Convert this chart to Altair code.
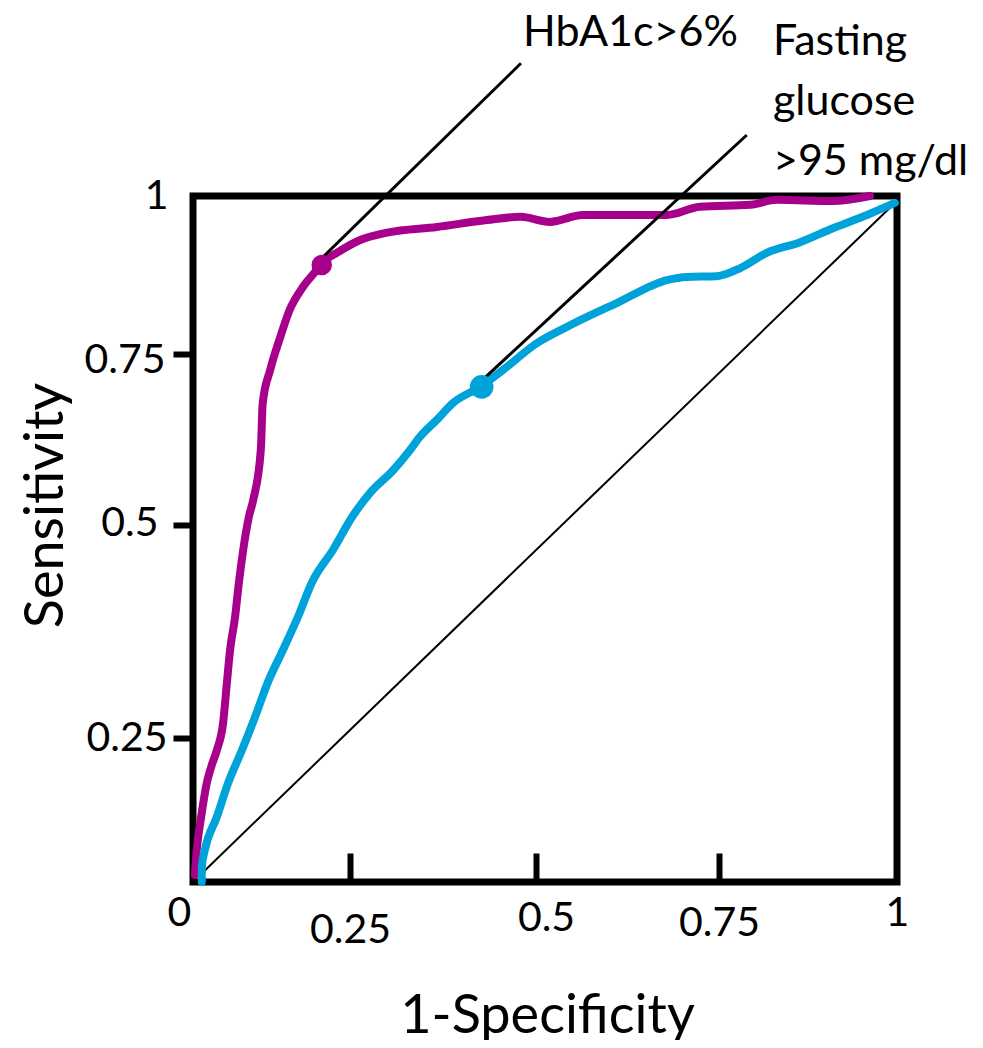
import altair as alt
import pandas as pd

# ---- data ----
tick_values = [0, 0.25, 0.5, 0.75, 1]
y_tick_values = [0.25, 0.5, 0.75, 1]

hba1c_fpr = [0.003, 0.006, 0.013, 0.022, 0.029, 0.038, 0.048, 0.054, 0.059, 0.067,
             0.073, 0.080, 0.089, 0.096, 0.108, 0.111, 0.123, 0.139, 0.154, 0.175,
             0.197, 0.205, 0.229, 0.263, 0.300, 0.367, 0.434, 0.479, 0.519, 0.564,
             0.679, 0.724, 0.794, 0.831, 0.910, 0.962]
hba1c_tpr = [0.012, 0.056, 0.113, 0.172, 0.200, 0.229, 0.268, 0.315, 0.353, 0.392,
             0.432, 0.471, 0.512, 0.537, 0.610, 0.678, 0.727, 0.777, 0.820, 0.856,
             0.883, 0.894, 0.910, 0.930, 0.942, 0.951, 0.962, 0.967, 0.959, 0.970,
             0.970, 0.983, 0.986, 0.994, 0.992, 1.000]

fg_fpr = [0.014, 0.014, 0.019, 0.038, 0.056, 0.078, 0.099, 0.119, 0.143, 0.167,
          0.189, 0.223, 0.253, 0.277, 0.308, 0.331, 0.344, 0.367, 0.388, 0.425,
          0.456, 0.501, 0.544, 0.611, 0.679, 0.706, 0.747, 0.780, 0.817, 0.864,
          0.910, 0.958, 0.997]
fg_tpr = [0.000, 0.026, 0.056, 0.113, 0.172, 0.229, 0.275, 0.315, 0.353, 0.392,
          0.432, 0.471, 0.512, 0.547, 0.580, 0.610, 0.629, 0.654, 0.678, 0.702,
          0.727, 0.767, 0.794, 0.831, 0.867, 0.872, 0.873, 0.886, 0.910, 0.927,
          0.949, 0.970, 0.989]

diag_fpr = [0.016, 0.997]
diag_tpr = [0.017, 0.989]

series_names = ["HbA1c>6%", "Fasting glucose >95 mg/dl"]
series_colors = ["#A7008B", "#00A3D9"]

cut_fpr = [0.205, 0.427]
cut_tpr = [0.891, 0.702]
cut_size = [420, 560]

leader_fpr = [0.2086, 0.418]
leader_tpr = [0.905, 0.702]
leader_fpr2 = [0.4798, 0.789]
leader_tpr2 = [1.210, 1.0965]

label_text = ["HbA1c>6%", "Fasting\nglucose\n>95 mg/dl"]
label_fpr = [0.4825, 0.8258]
label_tpr = [1.2380, 1.223]

# ---- tables ----
curves = pd.DataFrame({
    "fpr": hba1c_fpr + fg_fpr,
    "tpr": hba1c_tpr + fg_tpr,
    "series": [series_names[0]] * len(hba1c_fpr) + [series_names[1]] * len(fg_fpr),
    "order": list(range(len(hba1c_fpr))) + list(range(len(fg_fpr))),
})
diag = pd.DataFrame({"fpr": diag_fpr, "tpr": diag_tpr})
cuts = pd.DataFrame({"fpr": cut_fpr, "tpr": cut_tpr, "series": series_names, "size": cut_size})
leaders = pd.DataFrame({"fpr": leader_fpr, "tpr": leader_tpr, "fpr2": leader_fpr2, "tpr2": leader_tpr2})
labels = pd.DataFrame({"fpr": label_fpr, "tpr": label_tpr, "text": label_text})

FONT = "Lato"

xscale = alt.Scale(domain=tick_values, range=[0, 157, 343, 526, 704], nice=False, zero=False)
yscale = alt.Scale(domain=tick_values, range=[686, 542, 329, 158, 0], nice=False, zero=False)
color = alt.Color("series:N", scale=alt.Scale(domain=series_names, range=series_colors), legend=None)

xaxis = alt.Axis(
    values=tick_values, format="~g", domain=False, grid=False,
    offset=-29, tickSize=29, tickWidth=6, tickColor="black",
    tickOpacity={"expr": "datum.value > 0 && datum.value < 1 ? 1 : 0"},
    labelFont=FONT, labelFontSize=41, labelColor="black", labelBaseline="alphabetic",
    labelFlush=False, labelOverlap=False,
    labelPadding={"expr": "datum.value == 0.25 ? 60 : datum.value == 0.75 ? 53 : datum.value == 0.5 ? 48 : 43"},
    labelOffset={"expr": "datum.value == 0 ? -14 : datum.value == 0.5 ? 10 : 0"},
    title="1-Specificity", titleFont=FONT, titleFontSize=54, titleFontWeight="normal",
    titleColor="black", titleX=354, titleY=179, titleAlign="center", titleBaseline="alphabetic",
)
yaxis = alt.Axis(
    values=y_tick_values, format="~g", domain=False, grid=False,
    tickSize=20, tickWidth=6, tickColor="black",
    tickOpacity={"expr": "datum.value < 1 ? 1 : 0"},
    labelFont=FONT, labelFontSize=41, labelColor="black", labelBaseline="middle",
    labelFlush=False, labelOverlap=False,
    labelPadding={"expr": "datum.value == 1 ? 5 : datum.value == 0.5 ? 15 : datum.value == 0.25 ? 6 : 8"},
    labelOffset={"expr": "datum.value == 0.75 ? 6 : datum.value == 0.5 ? -2 : 0"},
    title="Sensitivity", titleFont=FONT, titleFontSize=54, titleFontWeight="normal",
    titleColor="black", titleX=-131, titleY=309, titleAngle=270, titleAlign="center",
    titleBaseline="alphabetic",
)

diag_layer = alt.Chart(diag).mark_line(color="black", strokeWidth=2).encode(
    x=alt.X("fpr:Q", scale=xscale, axis=xaxis), y=alt.Y("tpr:Q", scale=yscale, axis=yaxis)
)

curve_layer = alt.Chart(curves).mark_line(strokeWidth=8, strokeCap="round", strokeJoin="round",
                                          interpolate="monotone").encode(
    x=alt.X("fpr:Q", scale=xscale),
    y=alt.Y("tpr:Q", scale=yscale),
    color=color,
    detail="series:N",
    order="order:Q",
)

leader_layer = alt.Chart(leaders).mark_rule(color="black", strokeWidth=3).encode(
    x=alt.X("fpr:Q", scale=xscale), y=alt.Y("tpr:Q", scale=yscale),
    x2="fpr2:Q", y2="tpr2:Q",
)

cut_layer = alt.Chart(cuts).mark_circle(opacity=1).encode(
    x=alt.X("fpr:Q", scale=xscale), y=alt.Y("tpr:Q", scale=yscale),
    color=color,
    size=alt.Size("size:Q", scale=None, legend=None),
)

label_layer = alt.Chart(labels).mark_text(
    font=FONT, fontSize=43, color="black", align="left", baseline="alphabetic",
    lineBreak="\n", lineHeight=60,
).encode(
    x=alt.X("fpr:Q", scale=xscale), y=alt.Y("tpr:Q", scale=yscale), text="text:N",
)

chart = alt.layer(diag_layer, curve_layer, leader_layer, cut_layer, label_layer).properties(
    width=704, height=686,
    background="white",
    autosize=alt.AutoSizeParams(type="none"),
    padding={"left": 185, "top": 188, "right": 78, "bottom": 158},
).configure_view(stroke="black", strokeWidth=7)

chart.save("out.html", embed_options={"renderer": "svg", "actions": False})
